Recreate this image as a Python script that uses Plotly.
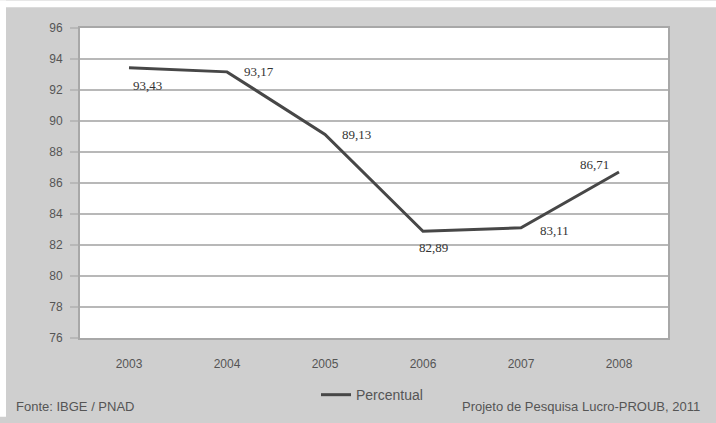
import plotly.graph_objects as go

# Série histórica (percentual)
anos = ["2003", "2004", "2005", "2006", "2007", "2008"]
percentual = [93.43, 93.17, 89.13, 82.89, 83.11, 86.71]
rotulos = ["93,43", "93,17", "89,13", "82,89", "83,11", "86,71"]
# deslocamento (px) de cada rótulo em relação ao seu ponto
desloc_x = [18, 32, 31, 10, 33, -25]
desloc_y = [-18, 0, 0, -16, -3, 8]
eixo_y = [76, 78, 80, 82, 84, 86, 88, 90, 92, 94, 96]

W, H = 716, 423
L, R, T, B = 80, 48, 28, 80

fig = go.Figure()
fig.add_trace(go.Scatter(
    x=anos, y=percentual, mode="lines", name="Percentual",
    line=dict(color="#474747", width=3),
))

def px_x(p):
    return (p - L) / (W - L - R)

def px_y(p):
    return (H - B - p) / (H - T - B)

shapes = [
    # white strips at the top and left edge of the canvas
    dict(type="rect", xref="paper", yref="paper",
         x0=px_x(0), x1=px_x(6), y0=px_y(H), y1=px_y(0),
         fillcolor="white", line=dict(width=0), layer="below"),
    dict(type="rect", xref="paper", yref="paper",
         x0=px_x(0), x1=px_x(W), y0=px_y(7), y1=px_y(0),
         fillcolor="white", line=dict(width=0), layer="below"),
]

fig.update_layout(
    width=W, height=H,
    margin=dict(l=L, r=R, t=T, b=B),
    paper_bgcolor="#cfcfcf",
    plot_bgcolor="white",
    font=dict(family="Liberation Sans", color="#555555"),
    showlegend=True,
    legend=dict(orientation="h", x=px_x(372), y=px_y(401),
                xanchor="center", yanchor="middle",
                bgcolor="rgba(0,0,0,0)",
                font=dict(size=14, color="#555555")),
    shapes=shapes,
)

# rótulos de valor, posicionados pelo índice da categoria e pelo valor
for i, (v, t, dx, dy) in enumerate(zip(percentual, rotulos, desloc_x, desloc_y)):
    fig.add_annotation(
        text=t, x=i, y=v, xref="x", yref="y", showarrow=False,
        xshift=dx, yshift=dy, xanchor="center", yanchor="middle",
        font=dict(family="Liberation Serif", size=13, color="#333333"),
    )

fig.add_annotation(
    text="Fonte: IBGE / PNAD", xref="paper", yref="paper",
    x=px_x(14), y=px_y(413), xanchor="left", yanchor="middle",
    showarrow=False, font=dict(family="Liberation Sans", size=13, color="#555555"),
)
fig.add_annotation(
    text="Projeto de Pesquisa Lucro-PROUB, 2011", xref="paper", yref="paper",
    x=px_x(702), y=px_y(413), xanchor="right", yanchor="middle",
    showarrow=False, font=dict(family="Liberation Sans", size=13, color="#555555"),
)

fig.update_xaxes(
    type="category", range=[-0.5, 5.5],
    showgrid=False, showline=True, mirror=True,
    linecolor="#a8a8a8", linewidth=2,
    ticks="", tickfont=dict(size=12, color="#555555"),
    ticklabelstandoff=14,
)
fig.update_yaxes(
    range=[76, 96], tickvals=eixo_y,
    showgrid=True, gridcolor="#b8b8b8", gridwidth=2,
    showline=True, mirror=True, linecolor="#a8a8a8", linewidth=2,
    ticks="outside", ticklen=8, tickcolor="#b8b8b8", tickwidth=2,
    tickfont=dict(size=12, color="#555555"),
    ticklabelstandoff=5, zeroline=False,
)

fig.write_html("out.html")
